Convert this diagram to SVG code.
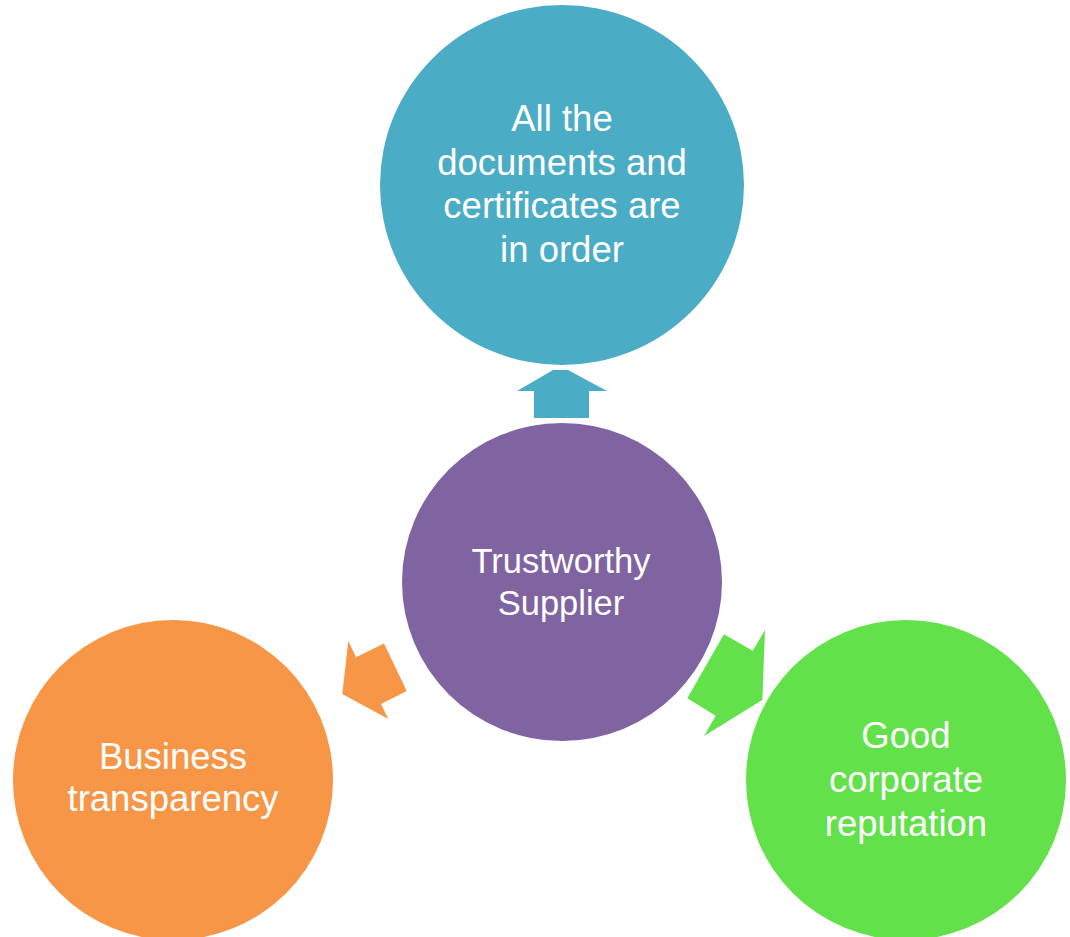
<svg xmlns="http://www.w3.org/2000/svg" width="1070" height="937" viewBox="0 0 1070 937">
<style>
.lbl{font-family:"Liberation Sans",Arial,sans-serif;font-size:36.5px;fill:#FFFFFF;text-anchor:middle}
.teal{fill:#4BACC6}
.purple{fill:#8064A2}
.orange{fill:#F79646}
.green{fill:#62E14A}
</style>
<rect width="1070" height="937" fill="#FFFFFF"/>
<g id="connectors">
<polygon class="teal" points="553,370 568,370 607,391 589,391 589,418 534,418 534,391 517,391"/>
<polygon class="orange" points="348.3,641 356,657.3 384,643.5 406.7,691 381,704 388.3,719 342.3,694"/>
<polygon class="green" points="724,634.3 752.7,650.7 765,630 762.3,700 704,736 715.7,715.7 687.3,698.3"/>
</g>
<g id="node-documents">
<ellipse class="teal" cx="562" cy="185" rx="182" ry="180"/>
<text class="lbl" x="562" y="131">All the</text>
<text class="lbl" x="562" y="174.5">documents and</text>
<text class="lbl" x="562" y="218">certificates are</text>
<text class="lbl" x="562" y="261.5">in order</text>
</g>
<g id="node-trustworthy">
<ellipse class="purple" cx="562" cy="582" rx="160" ry="159"/>
<text class="lbl" x="561" y="573" style="font-size:34.5px">Trustworthy</text>
<text class="lbl" x="561" y="614.5" style="font-size:34.5px">Supplier</text>
</g>
<g id="node-transparency">
<circle class="orange" cx="173" cy="780" r="160"/>
<text class="lbl" x="173" y="768.5">Business</text>
<text class="lbl" x="173" y="811">transparency</text>
</g>
<g id="node-reputation">
<circle class="green" cx="906" cy="780" r="160"/>
<text class="lbl" x="906" y="748">Good</text>
<text class="lbl" x="906" y="792">corporate</text>
<text class="lbl" x="906" y="836">reputation</text>
</g>
</svg>
